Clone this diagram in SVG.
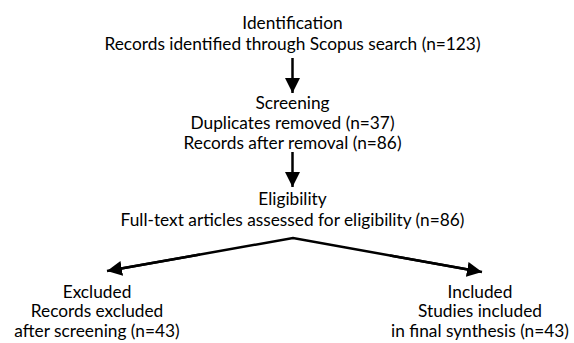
<svg xmlns="http://www.w3.org/2000/svg" width="574" height="343" viewBox="0 0 574 343">
<defs>
<marker id="ah" viewBox="0 0 10 10" refX="10" refY="5" markerWidth="6" markerHeight="6" markerUnits="strokeWidth" orient="auto">
<path d="M0,0 L10,5 L0,10 z" fill="#000"/>
</marker>
<style>
text{font-family:Lato,"Liberation Sans",sans-serif;font-size:17.3px;fill:#000;text-anchor:middle}
.c{stroke:#000;stroke-width:2.5;fill:none}
</style>
</defs>
<rect width="574" height="343" fill="#fff"/>
<g id="identification">
<text x="292.5" y="29">Identification</text>
<text x="292.5" y="50">Records identified through Scopus search (n=123)</text>
</g>
<g id="screening">
<text x="292.5" y="109">Screening</text>
<text x="292.5" y="129">Duplicates removed (n=37)</text>
<text x="292.5" y="149">Records after removal (n=86)</text>
</g>
<g id="eligibility">
<text x="292.5" y="205">Eligibility</text>
<text x="292.5" y="226">Full-text articles assessed for eligibility (n=86)</text>
</g>
<g id="excluded">
<text x="97" y="298">Excluded</text>
<text x="97" y="317">Records excluded</text>
<text x="97" y="337">after screening (n=43)</text>
</g>
<g id="included">
<text x="480" y="298">Included</text>
<text x="480" y="317">Studies included</text>
<text x="480" y="337">in final synthesis (n=43)</text>
</g>
<g id="connectors">
<line class="c" x1="292.5" y1="58" x2="292.5" y2="93" marker-end="url(#ah)"/>
<line class="c" x1="292.5" y1="152" x2="292.5" y2="187" marker-end="url(#ah)"/>
<polyline class="c" points="110,270.5 293,238 479,271.5"/>
<line class="c" x1="200" y1="254.5" x2="107" y2="271" marker-end="url(#ah)"/>
<line class="c" x1="390" y1="255.5" x2="482" y2="272" marker-end="url(#ah)"/>
</g>
</svg>
